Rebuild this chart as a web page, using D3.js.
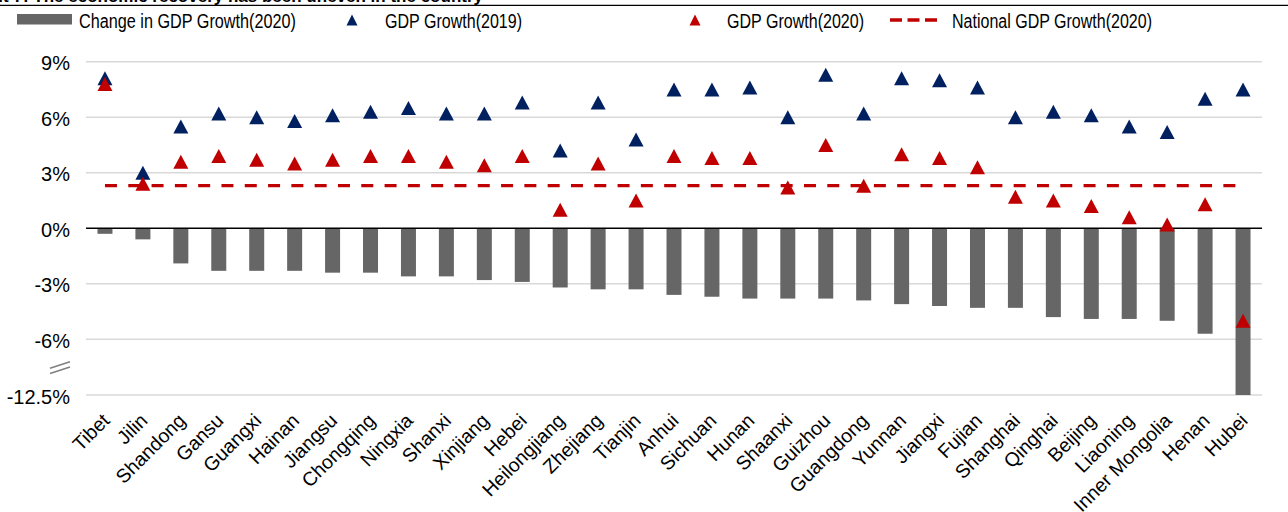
<!DOCTYPE html>
<html>
<head>
<meta charset="utf-8">
<script src="https://cdn.jsdelivr.net/npm/d3@7"></script>
<style>
  body { margin: 0; background: #fff; }
  svg { display: block; font-family: "Liberation Sans", Arial, sans-serif; }
</style>
</head>
<body>
<svg id="chart" width="1288" height="512"></svg>
<script>
// Provinces, sorted by change in growth
const provinces = ['Tibet', 'Jilin', 'Shandong', 'Gansu', 'Guangxi', 'Hainan', 'Jiangsu', 'Chongqing',
    'Ningxia', 'Shanxi', 'Xinjiang', 'Hebei', 'Heilongjiang', 'Zhejiang', 'Tianjin', 'Anhui',
    'Sichuan', 'Hunan', 'Shaanxi', 'Guizhou', 'Guangdong', 'Yunnan', 'Jiangxi', 'Fujian',
    'Shanghai', 'Qinghai', 'Beijing', 'Liaoning', 'Inner Mongolia', 'Henan', 'Hubei'];
const growth2019 = [8.1, 3.0, 5.5, 6.2, 6.0, 5.8, 6.1, 6.3, 6.5, 6.2, 6.2, 6.8, 4.2, 6.8, 4.8, 7.5,
    7.5, 7.6, 6.0, 8.3, 6.2, 8.1, 8.0, 7.6, 6.0, 6.3, 6.1, 5.5, 5.2, 7.0, 7.5];
const growth2020 = [7.8, 2.4, 3.6, 3.9, 3.7, 3.5, 3.7, 3.9, 3.9, 3.6, 3.4, 3.9, 1.0, 3.5, 1.5, 3.9,
    3.8, 3.8, 2.2, 4.5, 2.3, 4.0, 3.8, 3.3, 1.7, 1.5, 1.2, 0.6, 0.2, 1.3, -5.0];
const change2020 = [-0.3, -0.6, -1.9, -2.3, -2.3, -2.3, -2.4, -2.4, -2.6, -2.6, -2.8, -2.9, -3.2, -3.3, -3.3, -3.6,
    -3.7, -3.8, -3.8, -3.8, -3.9, -4.1, -4.2, -4.3, -4.3, -4.8, -4.9, -4.9, -5.0, -5.7, -12.5];
const national2020 = 2.3;
const yTicks = [9, 6, 3, 0, -3, -6, -12.5];
const legendLabels = ['Change in GDP Growth(2020)', 'GDP Growth(2019)', 'GDP Growth(2020)', 'National GDP Growth(2020)'];

const BLUE = '#002060', RED = '#c00000', GREY = '#666666';

const svg = d3.select('#chart');

// broken axis: -12.5% sits one step below -6%
const x = d3.scaleBand().domain(provinces).range([86, 1262]);
const y = d3.scaleLinear().domain([-12.5, -6, 9]).range([395, 339.3, 61.7]);
const cx = d => x(d) + x.bandwidth() / 2;

// title strip, cut off at the top like the source
svg.append('text')
    .attr('x', 483).attr('y', 1.5)
    .attr('text-anchor', 'end')
    .attr('font-weight', 'bold')
    .attr('font-size', 17)
    .text('Exhibit 7: The economic recovery has been uneven in the country');
svg.append('line')
    .attr('x1', 0).attr('x2', 1288).attr('y1', 5.3).attr('y2', 5.3)
    .attr('stroke', '#000').attr('stroke-width', 1.3);

// gridlines
svg.append('g')
    .selectAll('line')
    .data(yTicks.filter(d => d !== 0))
    .join('line')
    .attr('x1', 86).attr('x2', 1262)
    .attr('y1', d => y(d)).attr('y2', d => y(d))
    .attr('stroke', '#d9d9d9').attr('stroke-width', 1.4);

// y axis labels
const yAxis = svg.append('g')
    .attr('transform', 'translate(86,0)')
    .call(d3.axisLeft(y).tickValues(yTicks).tickFormat(d => d + '%').tickSize(0).tickPadding(16));
yAxis.select('.domain').remove();
yAxis.selectAll('text')
    .attr('font-family', '"Liberation Sans", Arial, sans-serif')
    .attr('font-size', 20)
    .attr('fill', '#000')
    .attr('dy', '0.4em');

// axis break mark
svg.append('g')
    .selectAll('line')
    .data([0, 5.3])
    .join('line')
    .attr('x1', 50).attr('y1', d => 368.3 + d)
    .attr('x2', 70).attr('y2', d => 361.7 + d)
    .attr('stroke', '#808080').attr('stroke-width', 1.6);

// bars
const barW = 15;
svg.append('g')
    .selectAll('rect')
    .data(provinces)
    .join('rect')
    .attr('x', d => cx(d) - barW / 2)
    .attr('width', barW)
    .attr('y', (d, i) => y(Math.max(0, change2020[i])))
    .attr('height', (d, i) => Math.abs(y(change2020[i]) - y(0)))
    .attr('fill', GREY);

// zero line
svg.append('line')
    .attr('x1', 86).attr('x2', 1262).attr('y1', y(0)).attr('y2', y(0))
    .attr('stroke', '#000').attr('stroke-width', 1.6);

// national growth line
svg.append('line')
    .attr('x1', cx(provinces[0])).attr('x2', cx(provinces[provinces.length - 1]))
    .attr('y1', y(national2020)).attr('y2', y(national2020))
    .attr('stroke', RED).attr('stroke-width', 3.3)
    .attr('stroke-dasharray', '12,11.3');

// triangle markers
const tri = (w, h) => `M0,${-h / 2}L${w / 2},${h / 2}L${-w / 2},${h / 2}Z`;

function drawMarkers(values, color) {
    svg.append('g')
        .selectAll('path')
        .data(provinces)
        .join('path')
        .attr('d', tri(15, 14))
        .attr('transform', (d, i) => `translate(${cx(d)},${y(values[i])})`)
        .attr('fill', color);
}
drawMarkers(growth2019, BLUE);
drawMarkers(growth2020, RED);

// category labels
svg.append('g')
    .selectAll('text')
    .data(provinces)
    .join('text')
    .attr('transform', d => `translate(${cx(d) + 1},${417}) rotate(-45)`)
    .attr('text-anchor', 'end')
    .attr('dy', '0.35em')
    .attr('font-size', 19.5)
    .text(d => d);

// legend (source font is a narrow face, so squeeze the text to its width)
const legend = svg.append('g');
legend.append('rect')
    .attr('x', 17).attr('y', 14).attr('width', 55).attr('height', 10.5)
    .attr('fill', GREY);
legend.append('path').attr('d', tri(11, 11)).attr('transform', 'translate(352,20)').attr('fill', BLUE);
legend.append('path').attr('d', tri(11, 11)).attr('transform', 'translate(695,20)').attr('fill', RED);
legend.append('line')
    .attr('x1', 890).attr('x2', 937).attr('y1', 20).attr('y2', 20)
    .attr('stroke', RED).attr('stroke-width', 3.3)
    .attr('stroke-dasharray', '12,5.5');

const legendX = [79, 385, 727, 952];
const legendW = [217, 137, 137, 200];
legend.selectAll('text')
    .data(legendLabels)
    .join('text')
    .attr('x', (d, i) => legendX[i])
    .attr('y', 27.5)
    .attr('font-size', 20)
    .attr('textLength', (d, i) => legendW[i])
    .attr('lengthAdjust', 'spacingAndGlyphs')
    .text(d => d);
</script>
</body>
</html>
